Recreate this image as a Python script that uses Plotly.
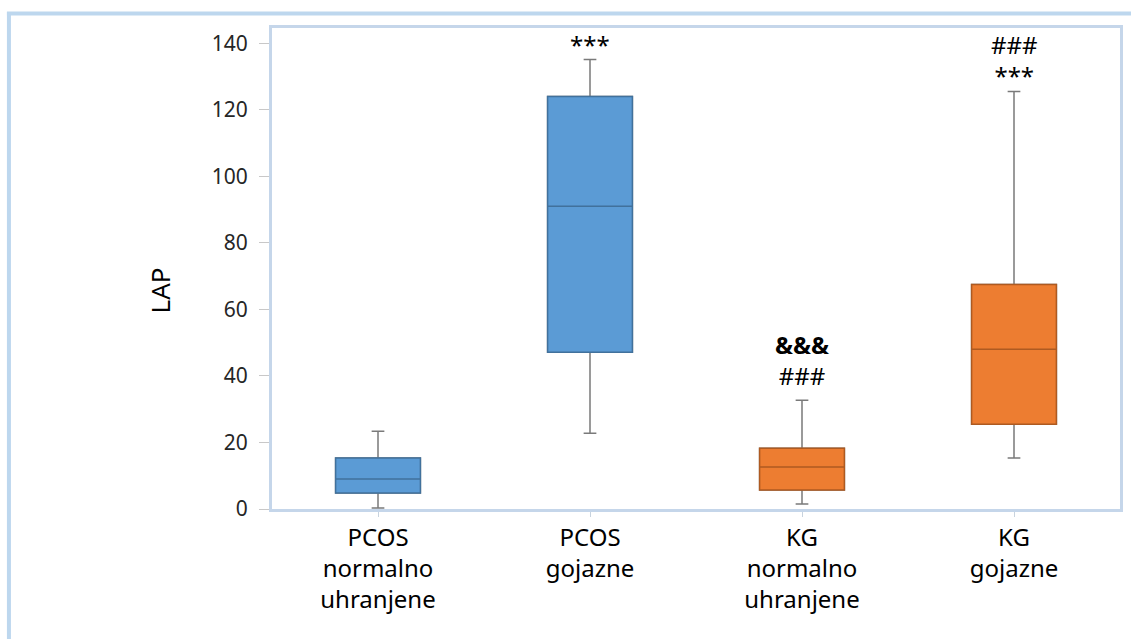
import plotly.graph_objects as go

# ---- data ----
categories = ["PCOS normalno uhranjene", "PCOS gojazne", "KG normalno uhranjene", "KG gojazne"]
category_labels = ["PCOS<br>normalno<br>uhranjene", "PCOS<br>gojazne",
                   "KG<br>normalno<br>uhranjene", "KG<br>gojazne"]
lower_whisker = [0.3, 22.8, 1.5, 15.3]
q1 = [4.8, 47.1, 5.7, 25.5]
median = [9.0, 91.0, 12.6, 48.0]
q3 = [15.3, 124.0, 18.3, 67.5]
upper_whisker = [23.4, 135.1, 32.7, 125.5]
y_ticks = [0, 20, 40, 60, 80, 100, 120, 140]
y_title = "LAP"
# significance marks: (category index, text, y value of the block centre)
sig_marks = [(1, "***", 139.5), (2, "<b>&&&</b><br>###", 44.8),
             (3, "###<br>***", 135.0)]

fill_colors = ["#5B9BD5", "#5B9BD5", "#ED7D31", "#ED7D31"]
edge_colors = ["#41719C", "#41719C", "#AE5A21", "#AE5A21"]
whisker_color = "#7A7A7A"
FONT = "Noto Sans"

W, H = 1131, 639
L, R, T, B = 272, 8, 28, 130
pw, ph = W - L - R, H - T - B


def px_x(px):
    return (px - L) / pw


def px_y(py):
    return (H - B - py) / ph


fig = go.Figure()
for i, c in enumerate(categories):
    # whiskers (grey)
    fig.add_trace(go.Box(
        x=[c], q1=[q1[i]], median=[median[i]], q3=[q3[i]],
        lowerfence=[lower_whisker[i]], upperfence=[upper_whisker[i]],
        width=0.4, whiskerwidth=0.15, fillcolor=fill_colors[i],
        line=dict(color=whisker_color, width=1.5), showlegend=False,
        hoverinfo="skip", boxpoints=False))
    # box body (darker outline)
    fig.add_trace(go.Box(
        x=[c], q1=[q1[i]], median=[median[i]], q3=[q3[i]],
        lowerfence=[q1[i]], upperfence=[q3[i]],
        width=0.4, whiskerwidth=0, fillcolor=fill_colors[i],
        line=dict(color=edge_colors[i], width=1.5), showlegend=False,
        hoverinfo="skip", boxpoints=False))

annotations = []
for ci, txt, yv in sig_marks:
    annotations.append(dict(x=categories[ci], y=yv, xref="x", yref="y", text=txt,
                            showarrow=False, yanchor="middle",
                            font=dict(family=FONT, size=24, color="black")))

annotations.append(dict(x=px_x(160), y=px_y(290), xref="paper", yref="paper", text=y_title,
                        textangle=-90, showarrow=False, xanchor="center", yanchor="middle",
                        font=dict(family=FONT, size=26, color="black")))

frame_col = "#BDD7EE"
shapes = [
    dict(type="line", xref="paper", yref="paper", x0=px_x(8), x1=px_x(8),
         y0=px_y(12), y1=px_y(H + 10), line=dict(color=frame_col, width=4)),
    dict(type="line", xref="paper", yref="paper", x0=px_x(6), x1=px_x(W + 10),
         y0=px_y(13.5), y1=px_y(13.5), line=dict(color=frame_col, width=4)),
]

fig.update_layout(
    width=W, height=H, margin=dict(l=L, r=R, t=T, b=B),
    paper_bgcolor="white", plot_bgcolor="white", boxmode="overlay",
    annotations=annotations, shapes=shapes,
    font=dict(family=FONT, color="#262626"),
    xaxis=dict(type="category", categoryorder="array", categoryarray=categories,
               tickvals=categories, ticktext=category_labels,
               tickfont=dict(family=FONT, size=24, color="black"),
               range=[-0.5, 3.5], showgrid=False,
               showline=True, mirror=True, linecolor="#C5D6EA", linewidth=3,
               ticks="outside", ticklen=5, tickcolor="#C8D3DE", zeroline=False,
               ticklabelstandoff=0),
    yaxis=dict(range=[0, 144.6], tickvals=y_ticks, ticks="outside", ticklen=10,
               tickcolor="#C8C8C8", showgrid=False, zeroline=False,
               showline=True, mirror=True, linecolor="#C5D6EA", linewidth=3,
               tickfont=dict(family=FONT, size=21, color="#262626"),
               ticklabelstandoff=7),
)

fig.write_html("out.html")
